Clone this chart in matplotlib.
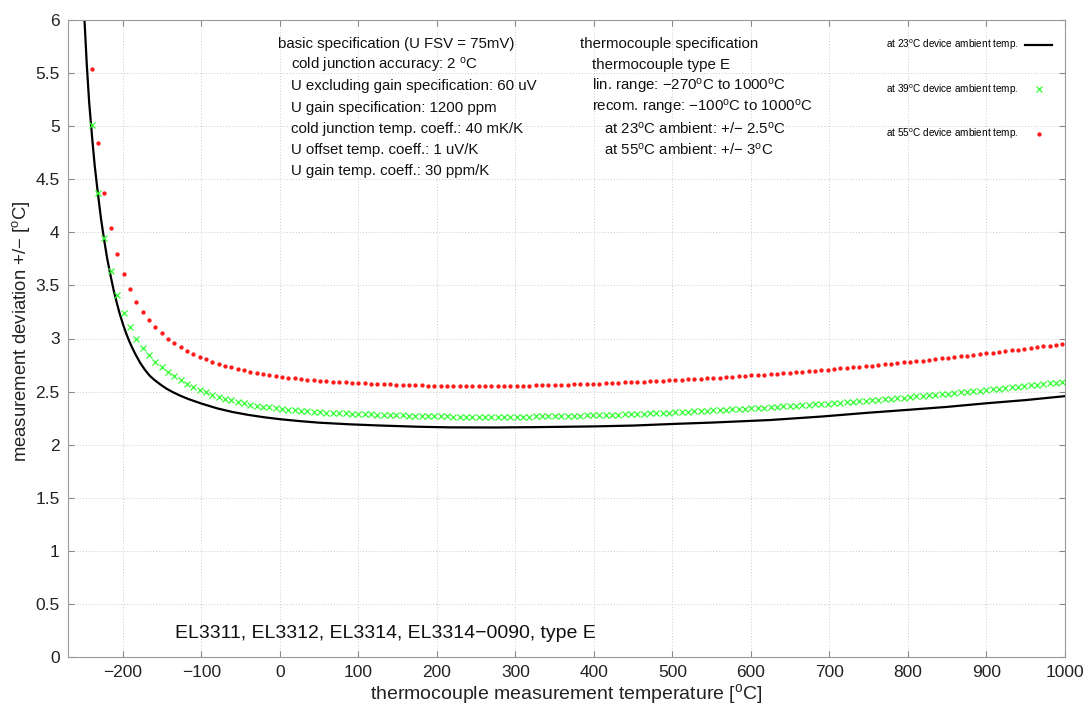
import numpy as np
import matplotlib.pyplot as plt
from matplotlib.ticker import FormatStrFormatter

plt.rcParams['font.family'] = ['Liberation Sans', 'DejaVu Sans']
plt.rcParams['mathtext.default'] = 'regular'

## curve at 23 degC ambient (continuous line)
t_23 = [-249, -246, -243, -239, -236, -232, -228, -224, -220, -216, -212, -208,
        -204, -200, -196, -192, -188, -184, -178, -172, -166, -160, -152, -144,
        -136, -126, -116, -100, -80, -60, -40, -20, 0, 25, 50, 88, 125, 175, 216,
        275, 325, 400, 450, 500, 550, 624, 690, 748, 800, 850, 900, 950, 1000]
dev_23 = [6.00, 5.57, 5.22, 4.87, 4.63, 4.37, 4.13, 3.93, 3.75, 3.60, 3.46, 3.34,
          3.23, 3.135, 3.05, 2.975, 2.91, 2.85, 2.77, 2.705, 2.65, 2.61, 2.565, 2.525,
          2.493, 2.458, 2.428, 2.387, 2.342, 2.307, 2.28, 2.258, 2.24, 2.222, 2.207,
          2.192, 2.181, 2.169, 2.163, 2.162, 2.165, 2.172, 2.18, 2.195, 2.208, 2.232,
          2.265, 2.30, 2.328, 2.356, 2.39, 2.42, 2.457]

## marker series (39 and 55 degC ambient), one value per plotted marker
t_first, t_step = -239.7, 8.08

dev_39 = [5.01, 4.375, 3.945, 3.64, 3.41, 3.24, 3.11, 3.00, 2.914, 2.841,
          2.782, 2.728, 2.684, 2.643, 2.606, 2.571, 2.543, 2.518, 2.493, 2.470,
          2.451, 2.433, 2.417, 2.401, 2.389, 2.378, 2.367, 2.359, 2.351, 2.343,
          2.335, 2.329, 2.324, 2.320, 2.315, 2.309, 2.307, 2.302, 2.300, 2.298,
          2.296, 2.293, 2.291, 2.288, 2.286, 2.284, 2.281, 2.280, 2.278, 2.276,
          2.274, 2.272, 2.271, 2.269, 2.268, 2.267, 2.266, 2.265, 2.264, 2.263,
          2.263, 2.263, 2.262, 2.263, 2.262, 2.263, 2.264, 2.264, 2.265, 2.265,
          2.266, 2.267, 2.268, 2.269, 2.270, 2.271, 2.273, 2.274, 2.276, 2.277,
          2.279, 2.280, 2.283, 2.284, 2.287, 2.288, 2.291, 2.292, 2.295, 2.297,
          2.300, 2.302, 2.305, 2.307, 2.311, 2.313, 2.316, 2.319, 2.323, 2.325,
          2.328, 2.332, 2.335, 2.338, 2.342, 2.345, 2.348, 2.353, 2.356, 2.360,
          2.363, 2.367, 2.372, 2.375, 2.379, 2.383, 2.387, 2.392, 2.397, 2.401,
          2.405, 2.410, 2.414, 2.419, 2.423, 2.428, 2.433, 2.438, 2.443, 2.448,
          2.454, 2.459, 2.465, 2.469, 2.475, 2.480, 2.486, 2.492, 2.497, 2.503,
          2.509, 2.515, 2.521, 2.528, 2.534, 2.539, 2.546, 2.552, 2.559, 2.565,
          2.571, 2.578, 2.584, 2.590]

dev_55 = [5.54, 4.844, 4.375, 4.043, 3.80, 3.61, 3.462, 3.346, 3.249, 3.173,
          3.107, 3.048, 2.998, 2.954, 2.916, 2.882, 2.854, 2.828, 2.803, 2.781,
          2.762, 2.744, 2.728, 2.712, 2.700, 2.687, 2.675, 2.665, 2.656, 2.646,
          2.637, 2.630, 2.624, 2.618, 2.612, 2.605, 2.602, 2.596, 2.593, 2.590,
          2.587, 2.583, 2.580, 2.577, 2.574, 2.572, 2.569, 2.567, 2.565, 2.563,
          2.561, 2.559, 2.558, 2.556, 2.555, 2.554, 2.553, 2.552, 2.552, 2.551,
          2.551, 2.551, 2.551, 2.552, 2.552, 2.553, 2.554, 2.555, 2.556, 2.557,
          2.558, 2.560, 2.561, 2.563, 2.564, 2.566, 2.568, 2.570, 2.572, 2.574,
          2.576, 2.578, 2.581, 2.583, 2.586, 2.588, 2.591, 2.593, 2.596, 2.599,
          2.602, 2.605, 2.608, 2.611, 2.615, 2.618, 2.621, 2.625, 2.629, 2.632,
          2.636, 2.640, 2.644, 2.648, 2.652, 2.656, 2.660, 2.665, 2.669, 2.674,
          2.678, 2.683, 2.688, 2.692, 2.697, 2.702, 2.707, 2.712, 2.718, 2.723,
          2.728, 2.734, 2.739, 2.745, 2.750, 2.756, 2.762, 2.768, 2.774, 2.780,
          2.786, 2.792, 2.799, 2.805, 2.812, 2.818, 2.825, 2.832, 2.838, 2.845,
          2.852, 2.859, 2.866, 2.874, 2.881, 2.888, 2.896, 2.903, 2.911, 2.918,
          2.926, 2.934, 2.942, 2.950]

t_39 = t_first + t_step * np.arange(len(dev_39))
t_55 = t_first + t_step * np.arange(len(dev_55))

x_ticks = np.arange(-200, 1001, 100)
y_ticks = np.arange(0, 6.01, 0.5)

deg = r'$^{o}$'
# (indent level, text)
spec_basic = [(0, "basic specification (U FSV = 75mV)"),
              (1, "cold junction accuracy: 2 " + deg + "C"),
              (1, "U excluding gain specification: 60 uV"),
              (1, "U gain specification: 1200 ppm"),
              (1, "cold junction temp. coeff.: 40 mK/K"),
              (1, "U offset temp. coeff.: 1 uV/K"),
              (1, "U gain temp. coeff.: 30 ppm/K")]
spec_tc = [(0, "thermocouple specification"),
           (1, "thermocouple type E"),
           (1, "lin. range: \u2212270" + deg + "C to 1000" + deg + "C"),
           (1, "recom. range: \u2212100" + deg + "C to 1000" + deg + "C"),
           (2, "at 23" + deg + "C ambient: +/\u2212 2.5" + deg + "C"),
           (2, "at 55" + deg + "C ambient: +/\u2212 3" + deg + "C")]

W, H = 1091, 709
fig = plt.figure(figsize=(W/100, H/100), dpi=100)
ax = fig.add_axes([68/W, 1-657/H, (1065-68)/W, (657-20)/H])

ax.plot(t_23, dev_23, color='black', lw=1.6,
        label="at 23" + deg + "C device ambient temp.")
ax.plot(t_39, dev_39, ls='none', marker='x', ms=4.5, mew=0.9, color='#33ff33',
        label="at 39" + deg + "C device ambient temp.")
ax.plot(t_55, dev_55, ls='none', marker='o', ms=3.1, mew=0, color='#ff1a1a',
        label="at 55" + deg + "C device ambient temp.")

ax.set_xlim(-270, 1000)
ax.set_ylim(0, 6)
ax.set_xticks(x_ticks)
ax.set_yticks(y_ticks)
ax.yaxis.set_major_formatter(FormatStrFormatter('%g'))
ax.grid(True, color='#cccccc', ls=(0, (1, 2)), lw=0.7)
ax.tick_params(direction='in', top=True, right=True, length=4, color='#888888',
               labelsize=12.5, labelcolor='#222222', pad=6)
for s in ax.spines.values():
    s.set_color('#999999')

ax.set_xlabel("thermocouple measurement temperature [" + deg + "C]", fontsize=14,
              color='#222222')
ax.xaxis.set_label_coords(0.5, -0.039)
ax.set_ylabel("measurement deviation +/\u2212 [" + deg + "C]", fontsize=13.3,
              color='#222222')
ax.yaxis.set_label_coords(-0.036, 0.512)

for i, (lvl, line) in enumerate(spec_basic):
    fig.text((278 + 13*lvl)/W, 1-(44 + i*21.2)/H, line, fontsize=10.8,
             va='center', ha='left', color='#111111')
for i, (lvl, line) in enumerate(spec_tc):
    fig.text((580 + 12*lvl)/W, 1-(44 + i*21.2)/H, line, fontsize=10.8,
             va='center', ha='left', color='#111111')

fig.text(175/W, 1-634/H, "EL3311, EL3312, EL3314, EL3314\u22120090, type E",
         fontsize=14, va='center', ha='left', color='#111111')

ax.legend(loc='upper right', bbox_to_anchor=(1052/W, 1-38/H), bbox_transform=fig.transFigure,
          fontsize=7.2, markerfirst=False, frameon=False, labelspacing=3.0,
          handlelength=2.7, handletextpad=0.6, borderaxespad=0, borderpad=0)

fig.savefig('out.png', dpi=100)
